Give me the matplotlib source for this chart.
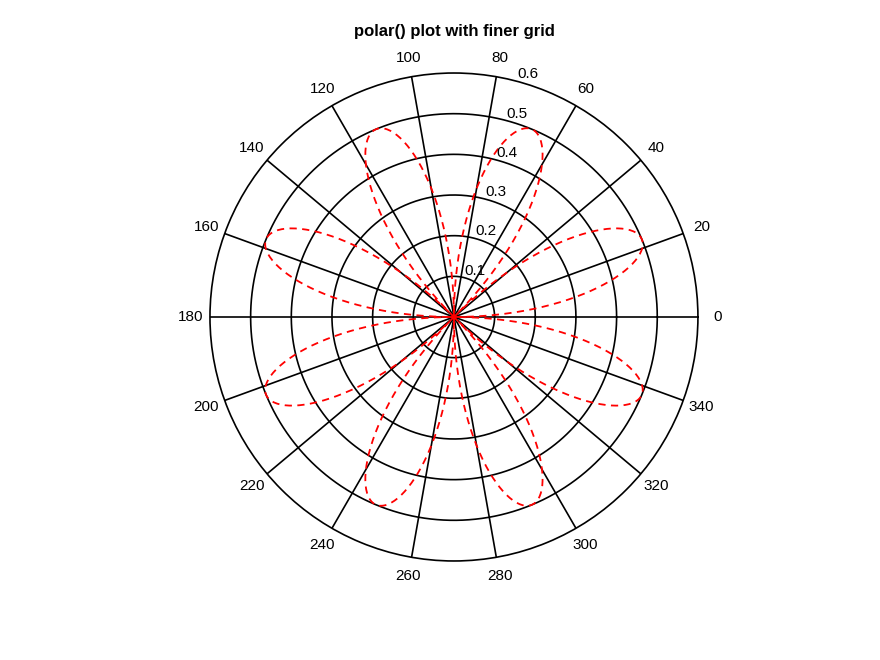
import numpy as np
import matplotlib
matplotlib.use("Agg")
import matplotlib.pyplot as plt

plt.rcParams['font.family'] = ['Liberation Sans', 'DejaVu Sans']

# rose curve: 8 petals, peak radius 0.5
petal_peak = 0.5
petal_freq = 4          # rho = peak * sin(freq * theta)
n_points = 1000

r_ticks = [0.1, 0.2, 0.3, 0.4, 0.5, 0.6]
r_labels = ["0.1", "0.2", "0.3", "0.4", "0.5", "0.6"]
t_ticks = list(range(0, 360, 20))
t_labels = [str(t) for t in t_ticks]
title = "polar() plot with finer grid"

theta = np.linspace(0, 2 * np.pi, n_points)
rho = petal_peak * np.sin(petal_freq * theta)
# negative radius goes to the other side, like octave does
th = np.where(rho < 0, theta + np.pi, theta)
rr = np.abs(rho)

fig = plt.figure(figsize=(8.8, 6.6), dpi=100)
ax = fig.add_axes([0.2386, 0.15, 0.5545, 0.7394], projection="polar")
ax.set_ylim(0, 0.6)
ax.grid(False)
ax.set_xticks([])
ax.set_yticks([])
ax.spines['polar'].set_color('black')
ax.spines['polar'].set_linewidth(1.2)

# rings and spokes
circ = np.linspace(0, 2 * np.pi, 400)
for r in r_ticks[:-1]:
    ax.plot(circ, np.full_like(circ, r), color='black', lw=1.2, zorder=1)
for t in t_ticks:
    a = np.deg2rad(t)
    ax.plot([a, a], [0, 0.6], color='black', lw=1.2, zorder=1)

ax.plot(th, rr, color='red', lw=1.3, linestyle=(0, (4, 3)), zorder=3)

# labels
for t, lab in zip(t_ticks, t_labels):
    ax.text(np.deg2rad(t), 0.6 * 1.08, lab, ha='center', va='center',
            fontsize=11, clip_on=False)
for r, lab in zip(r_ticks, r_labels):
    ax.text(np.deg2rad(75), r, lab, ha='left', va='bottom', fontsize=11,
            clip_on=False, zorder=4)

fig.text(0.5165, 0.953, title, ha='center', va='center',
         fontsize=12, fontweight='bold')

fig.savefig("out.png", dpi=100)
